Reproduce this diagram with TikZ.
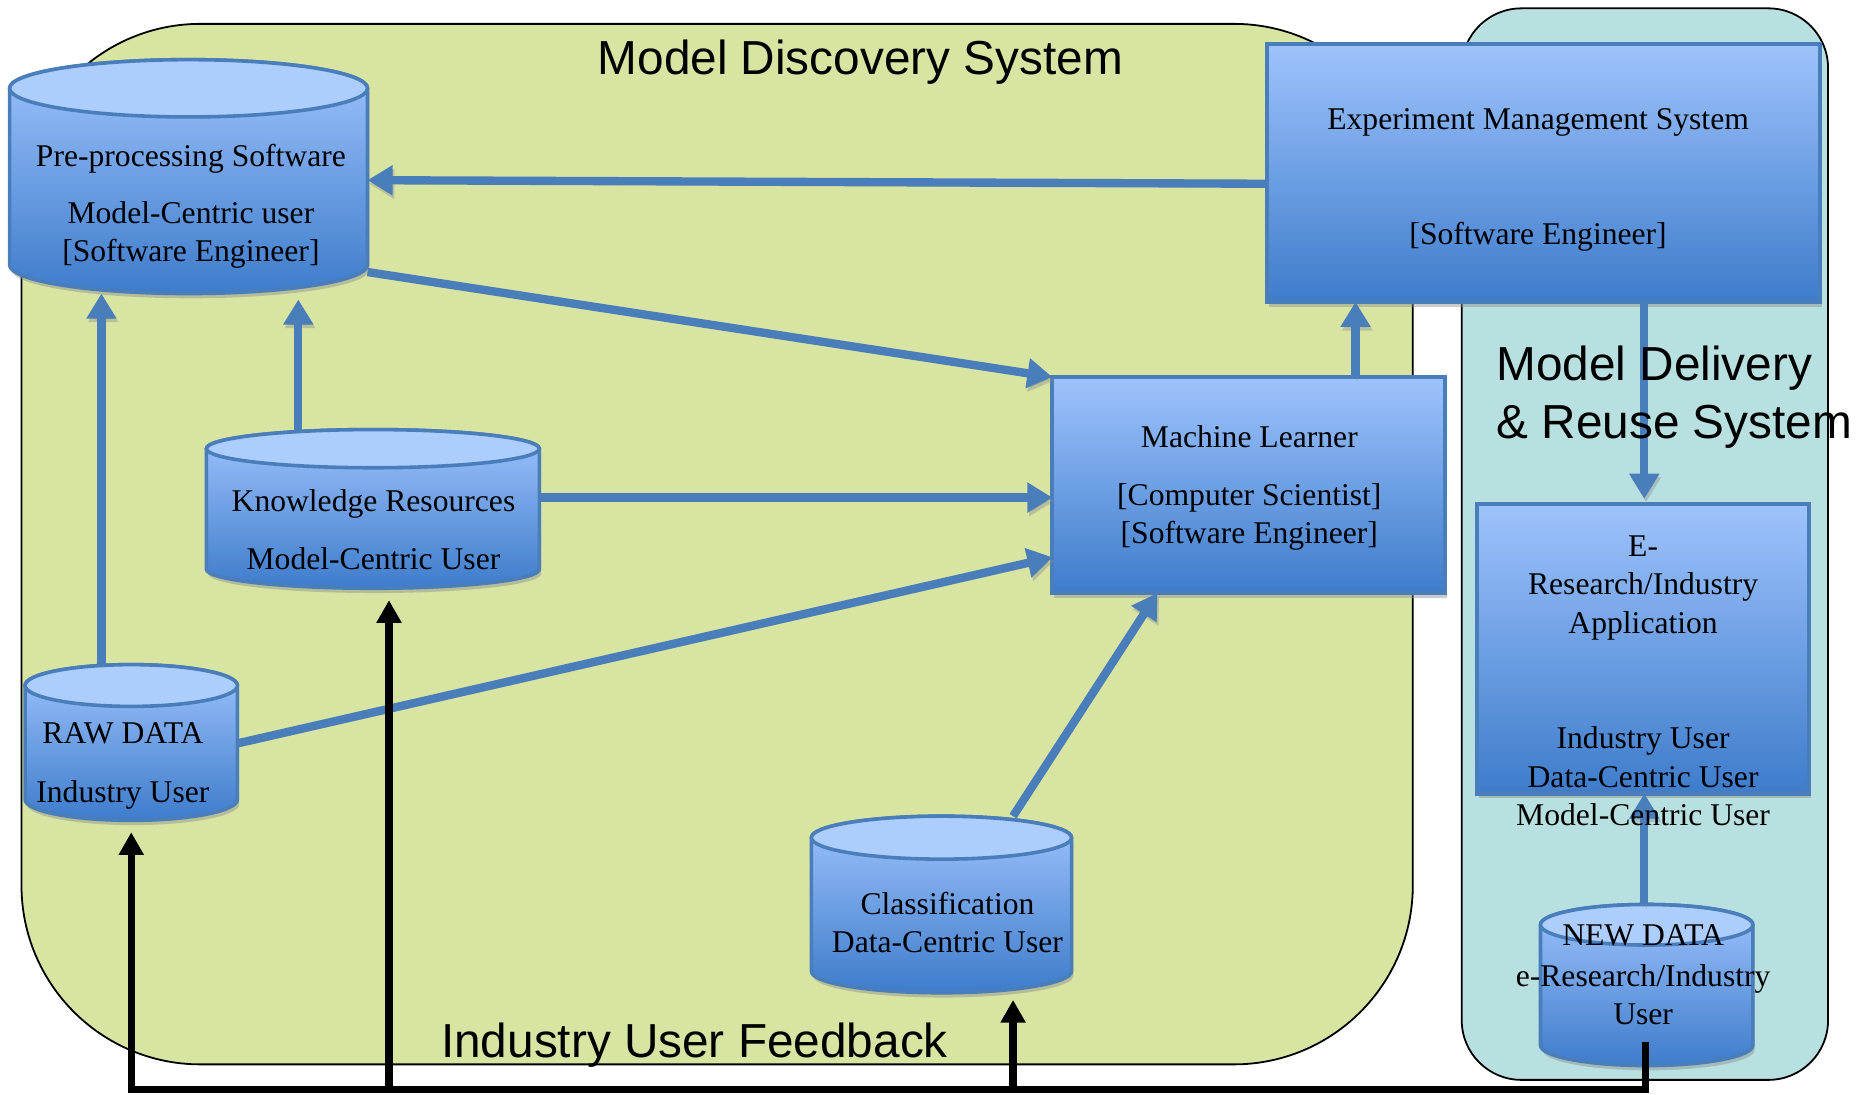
\documentclass[tikz,border=0pt]{standalone}
\usepackage{fontspec}
\setmainfont{Liberation Serif}
\newfontfamily\headfont{Liberation Sans}
\usetikzlibrary{arrows.meta,calc,shadows}

\definecolor{mdsgreen}{RGB}{216,228,162}
\definecolor{mdrteal}{RGB}{185,224,225}
\definecolor{edgeblue}{RGB}{74,126,187}
\definecolor{fillhi}{RGB}{158,195,252}
\definecolor{filllo}{RGB}{62,124,203}
\definecolor{captop}{RGB}{173,205,252}

\tikzset{
  region/.style={draw=black, line width=1.5pt, rounded corners=#1},
  procbox/.style={draw=edgeblue, line width=3.4pt, top color=fillhi, bottom color=filllo,
    inner sep=0pt, outer sep=0pt,
    drop shadow={shadow xshift=1.5pt, shadow yshift=-4pt, fill=black!45, opacity=0.45}},
  dbbody/.style={draw=edgeblue, line width=3pt, top color=fillhi, bottom color=filllo},
  dbcap/.style={draw=edgeblue, line width=3pt, fill=captop},
  dbshadow/.style={fill=black!45, opacity=0.45},
  dbframe/.style={inner sep=0pt, outer sep=0pt},
  txt/.style={font=\fontsize{26.5}{32}\selectfont, align=center, inner sep=0pt},
  headtitle/.style={font=\headfont\fontsize{40}{49}\selectfont, inner sep=0pt},
  flow/.style={draw=edgeblue, line width=7pt, -{Triangle[width=24pt,length=21pt]},
    preaction={draw=black!45, opacity=0.4, transform canvas={xshift=1.5pt,yshift=-3pt}}},
  feedback/.style={draw=black, line width=6pt, line join=miter, -{Triangle[width=20pt,length=19pt]}}
}

% database drum: name, centre x, half width, top cap centre y, base centre y, cap half height
\newcommand{\database}[6]{%
  \fill[dbshadow, shift={(1.5,4)}] (#2-#3,#4) -- (#2-#3,#5)
     arc[start angle=180, end angle=360, x radius=#3pt, y radius=#6pt]
     -- (#2+#3,#4) arc[start angle=0, end angle=180, x radius=#3pt, y radius=#6pt] -- cycle;
  \draw[dbbody] (#2-#3,#4) -- (#2-#3,#5)
     arc[start angle=180, end angle=360, x radius=#3pt, y radius=#6pt]
     -- (#2+#3,#4) arc[start angle=0, end angle=180, x radius=#3pt, y radius=#6pt] -- cycle;
  \draw[dbcap] (#2,#4) ellipse[x radius=#3pt, y radius=#6pt];
  \node[dbframe, minimum width={2*#3*1pt}, minimum height={(#5-#4+2*#6)*1pt}]
     (#1) at (#2,{(#4+#5)/2}) {};
}

\begin{document}
\begin{tikzpicture}[x=1pt, y=-1pt]
\useasboundingbox (0,0) rectangle (1568,917);

% system regions
\draw[region=50pt, fill=mdrteal] (1225,7) rectangle (1532,905);
\draw[region=150pt, fill=mdsgreen] (18,20) rectangle (1184,892);

\node[headtitle] (mdstitle) at (721,52) {Model Discovery System};

% data stores
\database{pre}{158}{150}{74}{222}{24}
\database{kr}{312.5}{139.5}{376}{477}{16}
\database{raw}{110}{89}{574.5}{670}{17.5}
\database{cls}{789}{109}{702}{814}{18}
\database{nd}{1380}{89}{775}{876}{17}

% processing blocks
\node[procbox, minimum width=463pt, minimum height=216pt] (ems) at (1293.5,145) {};
\node[procbox, minimum width=329pt, minimum height=181pt] (ml) at (1046.5,406.5) {};
\node[procbox, minimum width=278pt, minimum height=243pt] (era) at (1377,543.5) {};

% data and control flows
\draw[flow] ([yshift=-9pt]ems.west) -- ([yshift=-3pt]pre.east);
\draw[flow] ([yshift=-80pt]pre.east) -- (ml.north west);
\draw[flow] (kr.east |- 0,417) -- (ml.west |- 0,417);
\draw[flow] (raw.east |- 0,623) -- (ml.west |- 0,467);
\draw[flow] (cls.north -| 849,0) -- (ml.south -| 970,0);
\draw[flow] (ml.north -| 1136,0) -- (ems.south -| 1136,0);
\draw[flow, shorten >=4pt] (ems.south -| 1378,0) -- (era.north -| 1378,0);
\draw[flow] (nd.north -| 1378,0) -- (era.south -| 1378,0);
\draw[flow] (raw.north -| 85,0) -- (pre.south -| 85,0);
\draw[flow, shorten >=5pt] (kr.north -| 250,0) -- (pre.south -| 250,0);

\node[headtitle, align=left, anchor=west] (mdrtitle) at (1254,333) {Model Delivery\\\& Reuse System};

% industry user feedback bus
\coordinate (busR) at (1379,913);
\coordinate (busL) at (110,913);
\draw[feedback, shorten >=10pt] ($(nd.south -| 1379,0)+(0,-20)$) -- (busR) -- (busL) -- (raw.south);
\draw[feedback, shorten >=10pt] (busL -| 326,0) -- (kr.south -| 326,0);
\draw[feedback, shorten >=6pt] (busL -| 849,0) -- (cls.south -| 849,0);

% texts
\node[txt] (pretext) at (160,173) {Pre-processing Software\\[16pt]Model-Centric user\\{[Software Engineer]}};
\node[txt] (emstext) at (1289,151) {Experiment Management System\\[64pt]{[Software Engineer]}};
\node[txt] (mltext) at (1047,409) {Machine Learner\\[16pt]{[Computer Scientist]}\\{[Software Engineer]}};
\node[txt] (krtext) at (313,444) {Knowledge Resources\\[16pt]Model-Centric User};
\node[txt] (rawtext) at (103,642) {RAW DATA\\[17pt]Industry User};
\node[txt] (clstext) at (794,773) {Classification\\Data-Centric User};
\node[txt] (eratext) at (1377,570.5) {E-\\Research/Industry\\Application\\[65pt]Industry User\\Data-Centric User\\Model-Centric User};
\node[txt] (ndtext) at (1377,817) {NEW DATA\\[2pt]e-Research/Industry\\User};

\node[headtitle] (fbtitle) at (582,876) {Industry User Feedback};
\end{tikzpicture}
\end{document}
